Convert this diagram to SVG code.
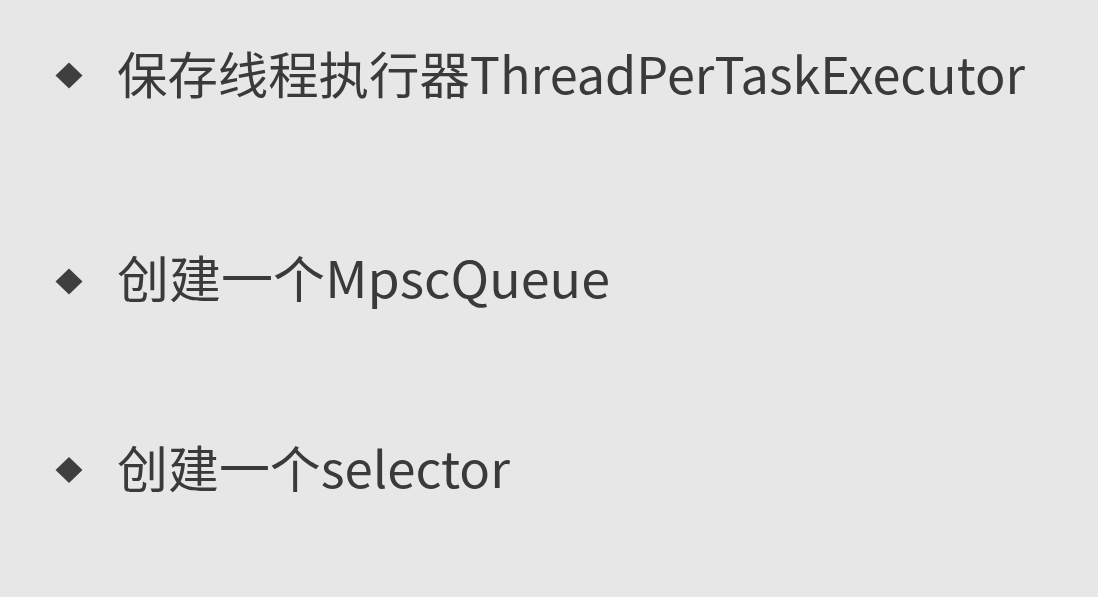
<svg xmlns="http://www.w3.org/2000/svg" width="1098" height="597" viewBox="0 0 1098 597">
<style>
.t{font-family:"Noto Sans CJK SC","Microsoft YaHei",sans-serif;font-size:50px;fill:#3a3a3a}
.b{fill:#3f3f3f}
</style>
<defs><path id="dm" d="M0,-13 L13.5,0 L0,13 L-13.5,0 Z"/></defs>
<rect width="1098" height="597" fill="#e7e7e7"/>
<g id="item1"><use href="#dm" class="b" x="69" y="75.5"/><text class="t" x="117" y="94" textLength="908" lengthAdjust="spacingAndGlyphs">保存线程执行器ThreadPerTaskExecutor</text></g>
<g id="item2"><use href="#dm" class="b" x="69" y="281.5"/><text class="t" x="117" y="298" textLength="493" lengthAdjust="spacingAndGlyphs">创建一个MpscQueue</text></g>
<g id="item3"><use href="#dm" class="b" x="69" y="470"/><text class="t" x="117" y="488" textLength="393" lengthAdjust="spacingAndGlyphs">创建一个selector</text></g>
</svg>
